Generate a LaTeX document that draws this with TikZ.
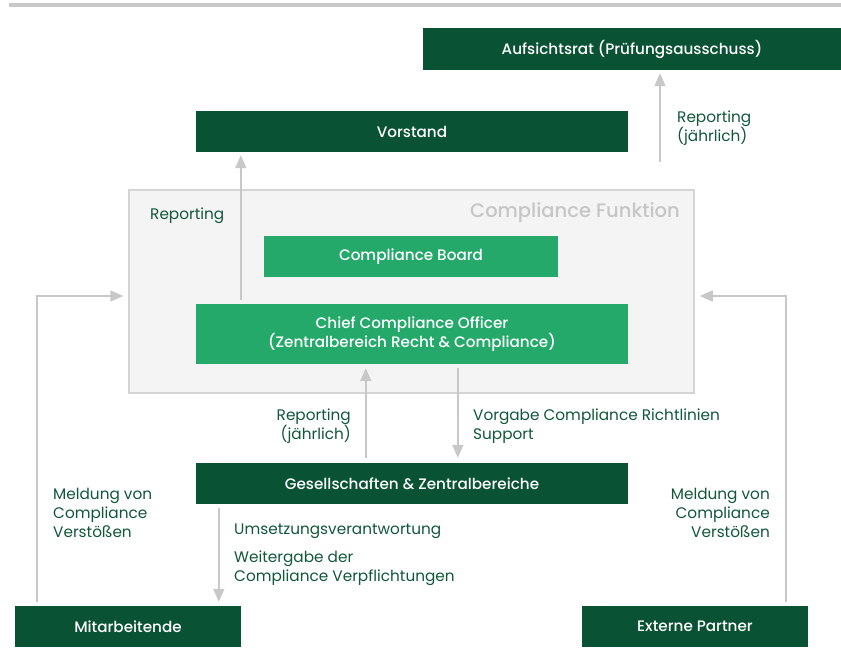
\documentclass[tikz,border=0pt]{standalone}
\usepackage{fontspec}
\setmainfont{Poppins}
\newfontfamily\medfont{Poppins Medium}
\usetikzlibrary{arrows.meta}
\definecolor{dkgreen}{HTML}{0A5234}
\definecolor{ltgreen}{HTML}{24A96B}
\definecolor{txtgreen}{HTML}{11573A}
\definecolor{linegray}{HTML}{C8C8C8}
\definecolor{panelgray}{HTML}{F4F4F4}
\definecolor{panelborder}{HTML}{D4D4D4}
\definecolor{titlegray}{HTML}{C6C6C6}
\begin{document}
\begin{tikzpicture}[x=1pt,y=-1pt,
  boxbase/.style={inner sep=0pt, text=white, align=center,
    font=\medfont\fontsize{15.2}{18}\selectfont},
  dbox/.style={boxbase, fill=dkgreen},
  lbox/.style={boxbase, fill=ltgreen},
  lbl/.style={inner sep=0pt, text=txtgreen, font=\fontsize{15.3}{19}\selectfont},
  arr/.style={draw=linegray, line width=1.5pt,
    -{Triangle[width=11pt,length=13pt]}, color=linegray},
]
\useasboundingbox (0,0) rectangle (841,668);
% top rule
\draw[linegray, line width=4pt] (9,5) -- (841,5);

% panel
\node[fill=panelgray, draw=panelborder, line width=1.5pt, minimum width=565pt, minimum height=203pt, inner sep=0pt] (cf) at (411.5,291.5) {};
\node[anchor=east, inner sep=0pt, text=titlegray, font=\medfont\fontsize{19.5}{23}\selectfont] (cftitle) at (680,213) {Compliance Funktion};

% boxes
\node[dbox, minimum width=418pt, minimum height=42pt] (auf) at (632,49) {Aufsichtsrat (Prüfungsausschuss)};
\node[dbox, minimum width=432pt, minimum height=41pt] (vor) at (412,131.5) {Vorstand};
\node[lbox, minimum width=294pt, minimum height=41pt] (cb) at (411,256.5) {Compliance Board};
\node[lbox, minimum width=432pt, minimum height=60pt] (cco) at (412,334) {Chief Compliance Officer\\(Zentralbereich Recht \& Compliance)};
\node[dbox, minimum width=432pt, minimum height=41pt] (ges) at (412,483.5) {Gesellschaften \& Zentralbereiche};
\node[dbox, minimum width=226pt, minimum height=41pt] (mit) at (128,626.5) {Mitarbeitende};
\node[dbox, minimum width=226pt, minimum height=41pt] (ext) at (695,626.5) {Externe Partner};

% connectors
\coordinate (arstart) at (660,162);
\draw[arr, shorten >=3pt] (arstart) -- (arstart |- auf.south);
\draw[arr, shorten <=4pt, shorten >=3pt] ([xshift=45pt]cco.north west) -- ([xshift=45pt]vor.south west);
\draw[arr, shorten <=5pt, shorten >=4pt] ([xshift=170pt]ges.north west) -- ([xshift=170pt]cco.south west);
\draw[arr, shorten <=4pt, shorten >=5pt] ([xshift=262pt]cco.south west) -- ([xshift=262pt]ges.north west);
\coordinate (gdown) at ([xshift=23pt]ges.south west);
\draw[arr, shorten <=4pt, shorten >=4pt] (gdown) -- (gdown |- mit.north);
\draw[arr, shorten <=4pt, shorten >=5pt] ([xshift=22pt]mit.north west) |- ([yshift=-4.5pt]cf.west);
\draw[arr, shorten <=4pt, shorten >=5pt] ([xshift=-22pt]ext.north east) |- ([yshift=-4.5pt]cf.east);

% labels
\node[lbl, anchor=west, align=left] (l1) at (677,128) {Reporting\\(jährlich)};
\node[lbl, anchor=west] (l2) at (150,215.5) {Reporting};
\node[lbl, anchor=east, align=right] (l3) at (351,426) {Reporting\\(jährlich)};
\node[lbl, anchor=west, align=left] (l4) at (473,426) {Vorgabe Compliance Richtlinien\\Support};
\node[lbl, anchor=west] (l5) at (234,531.5) {Umsetzungsverantwortung};
\node[lbl, anchor=west, align=left] (l6) at (234,568) {Weitergabe der\\Compliance Verpflichtungen};
\node[lbl, anchor=west, align=left] (l7) at (53,512.5) {Meldung von\\Compliance\\Verstößen};
\node[lbl, anchor=east, align=right] (l8) at (770,512.5) {Meldung von\\Compliance\\Verstößen};
\end{tikzpicture}
\end{document}
